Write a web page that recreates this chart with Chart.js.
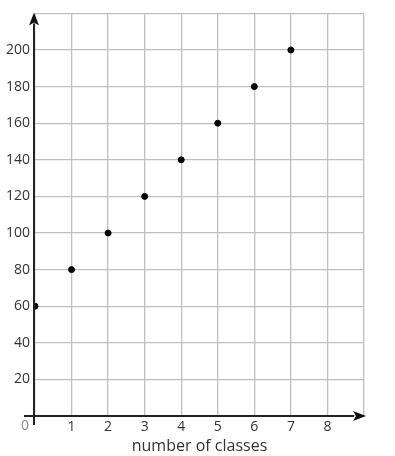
<!DOCTYPE html>
<html>
<head>
<meta charset="UTF-8">
<script src="https://cdn.jsdelivr.net/npm/chart.js"></script>
<style>
  html, body { margin: 0; padding: 0; background: #fff; }
  #wrap { width: 395px; height: 456px; }
</style>
</head>
<body>
<div id="wrap"><canvas id="chart"></canvas></div>
<script>
const classes = [0, 1, 2, 3, 4, 5, 6, 7];
const totals = [60, 80, 100, 120, 140, 160, 180, 200];
const xTitle = 'number of classes';

// axis lines with arrowheads + the odd "0" at the origin
const axisArrows = {
  id: 'axisArrows',
  afterDatasetsDraw(chart) {
    const c = chart.ctx, a = chart.chartArea;
    const x0 = chart.scales.x.getPixelForValue(0) - 1;
    const y0 = chart.scales.y.getPixelForValue(0);
    c.save();
    c.strokeStyle = '#222';
    c.fillStyle = '#111';
    c.lineWidth = 2;
    c.beginPath();
    c.moveTo(x0, y0 + 9); c.lineTo(x0, a.top + 10);
    c.moveTo(x0 - 10, y0); c.lineTo(a.right - 10, y0);
    c.stroke();
    c.beginPath();
    c.moveTo(x0, a.top - 1); c.lineTo(x0 - 5, a.top + 12); c.lineTo(x0, a.top + 9); c.lineTo(x0 + 5, a.top + 12);
    c.closePath(); c.fill();
    c.beginPath();
    c.moveTo(a.right + 2, y0); c.lineTo(a.right - 11, y0 - 5); c.lineTo(a.right - 8, y0); c.lineTo(a.right - 11, y0 + 5);
    c.closePath(); c.fill();
    c.fillStyle = '#888';
    c.font = '14px "Open Sans"';
    c.textAlign = 'center';
    c.textBaseline = 'middle';
    c.fillText('0', x0 - 9, y0 + 10);
    c.restore();
  }
};

new Chart(document.getElementById('chart'), {
  type: 'scatter',
  data: {
    datasets: [{
      data: classes.map((c, i) => ({ x: c, y: totals[i] })),
      backgroundColor: '#000',
      borderColor: '#000',
      pointRadius: 3,
      pointHoverRadius: 3
    }]
  },
  options: {
    responsive: true,
    maintainAspectRatio: false,
    animation: false,
    layout: { padding: { top: 12, right: 31, left: 0, bottom: 0 } },
    plugins: { legend: { display: false }, tooltip: { enabled: false } },
    scales: {
      x: {
        type: 'linear', min: 0, max: 9,
        afterFit(s) { s.height = 40; },
        border: { display: false },
        grid: { color: '#bfbfbf', lineWidth: 1.3, drawTicks: false },
        ticks: {
          stepSize: 1, padding: 3, color: '#333',
          font: { family: 'Open Sans', size: 14 },
          callback: v => (v === 0 || v === 9) ? '' : v
        },
        title: {
          display: true, text: xTitle, color: '#333',
          font: { family: 'Open Sans', size: 16 }, padding: { top: 0, bottom: 0 }
        }
      },
      y: {
        type: 'linear', min: 0, max: 220,
        afterFit(s) { s.width = 35; },
        border: { display: false },
        grid: { color: '#bfbfbf', lineWidth: 1.3, drawTicks: false },
        ticks: {
          stepSize: 20, padding: 5, color: '#333',
          font: { family: 'Open Sans', size: 14 },
          callback: v => (v === 0 || v === 220) ? '' : v
        }
      }
    }
  },
  plugins: [axisArrows]
});
</script>
</body>
</html>
